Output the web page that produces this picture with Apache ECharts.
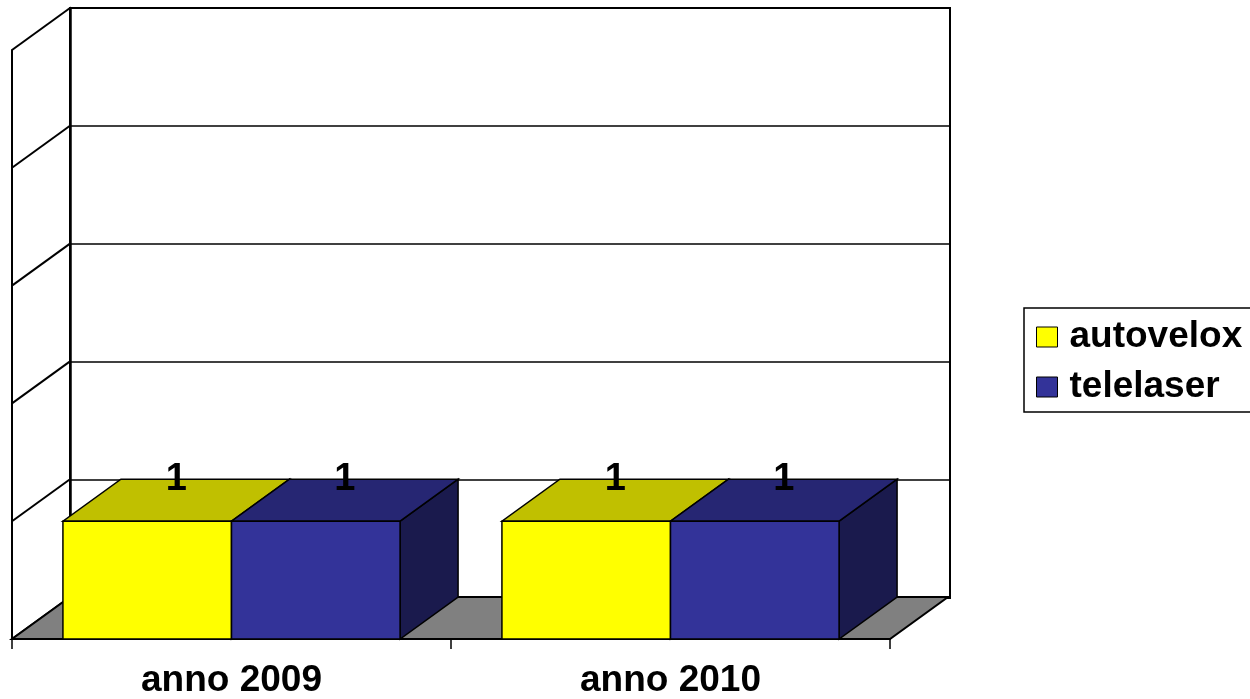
<!DOCTYPE html>
<html>
<head>
<meta charset="utf-8">
<script src="https://cdn.jsdelivr.net/npm/echarts@6/dist/echarts.min.js"></script>
<style>html,body{margin:0;padding:0;background:#fff;}#c{width:1250px;height:699px;}</style>
</head>
<body>
<div id="c"></div>
<script>
const categories = ['anno 2009', 'anno 2010'];
const seriesNames = ['autovelox', 'telelaser'];
const autovelox = [1, 1];
const telelaser = [1, 1];
const yTicks = [0, 1, 2, 3, 4, 5];

const DX = 58, DY = -42;
const FONT = '"Liberation Sans", Arial, sans-serif';
const faceColors = [
  { front: '#FFFF00', top: '#C0C000', side: '#8A8A00' },
  { front: '#333399', top: '#262673', side: '#1A1A4D' }
];
const BAR_FRAC = 0.384;

function barRender(sIdx) {
  return function (params, api) {
    const cat = api.value(0), v = api.value(1);
    const top = api.coord([cat, v]);
    const base = api.coord([cat, 0]);
    const band = api.size([1, 0])[0];
    const w = band * BAR_FRAC;
    const xL = top[0] - w + sIdx * w;
    const yT = top[1], yB = base[1];
    const col = faceColors[sIdx];
    const st = { stroke: '#000', lineWidth: 1.5 };
    return {
      type: 'group',
      children: [
        { type: 'polygon', shape: { points: [[xL + w, yT], [xL + w + DX, yT + DY], [xL + w + DX, yB + DY], [xL + w, yB]] },
          style: Object.assign({ fill: col.side }, st) },
        { type: 'polygon', shape: { points: [[xL, yT], [xL + w, yT], [xL + w + DX, yT + DY], [xL + DX, yT + DY]] },
          style: Object.assign({ fill: col.top }, st) },
        { type: 'rect', shape: { x: xL, y: yT, width: w, height: yB - yT },
          style: Object.assign({ fill: col.front }, st) },
        { type: 'text', x: xL + w / 2 + DX / 2, y: yT + DY, z2: 10,
          style: { text: String(v), fill: '#000', font: 'bold 38px ' + FONT, align: 'center', verticalAlign: 'middle' } }
      ]
    };
  };
}

const chart = echarts.init(document.getElementById('c'), null, { renderer: 'canvas' });
chart.setOption({
  animation: false,
  backgroundColor: '#fff',
  grid: [
    { left: 12, right: 360, top: 50, bottom: 59 },
    { left: 70, right: 300, top: 8, bottom: 101, show: true, borderColor: '#000', borderWidth: 2, backgroundColor: '#fff' }
  ],
  legend: {
    data: seriesNames,
    orient: 'vertical',
    left: 1024, top: 308,
    borderColor: '#000', borderWidth: 1.5,
    padding: [9, 10, 5, 12],
    itemWidth: 21, itemHeight: 20, itemGap: 10,
    icon: 'rect',
    itemStyle: { borderColor: '#000', borderWidth: 1 },
    textStyle: { fontFamily: FONT, fontWeight: 'bold', fontSize: 37, color: '#000', lineHeight: 40, padding: [0, 0, 0, 7] }
  },
  xAxis: [
    { type: 'category', gridIndex: 0, data: categories,
      axisLine: { show: true, lineStyle: { color: '#000', width: 2 } },
      axisTick: { show: true, length: 10, lineStyle: { color: '#000', width: 1.5 } },
      axisLabel: { fontFamily: FONT, fontWeight: 'bold', fontSize: 37, color: '#000', margin: 23 },
      splitLine: { show: false } },
    { type: 'category', gridIndex: 1, data: categories, show: false }
  ],
  yAxis: [
    { type: 'value', gridIndex: 0, min: 0, max: 5, interval: 1,
      axisLine: { show: true, lineStyle: { color: '#000', width: 2 } },
      axisTick: { show: false }, axisLabel: { show: false }, splitLine: { show: false } },
    { type: 'value', gridIndex: 1, min: 0, max: 5, interval: 1,
      axisLine: { show: true, lineStyle: { color: '#000', width: 2.5 } },
      axisTick: { show: false }, axisLabel: { show: false },
      splitLine: { show: true, lineStyle: { color: '#000', width: 1.5 } } }
  ],
  series: [
    { type: 'custom', name: 'walls', xAxisIndex: 0, yAxisIndex: 0, silent: true, z: 1,
      data: yTicks.map(v => [0, v]),
      renderItem: function (params, api) {
        const y = api.coord([0, api.value(1)])[1];
        const x0 = params.coordSys.x;
        return { type: 'line', shape: { x1: x0, y1: y, x2: x0 + DX, y2: y + DY }, style: { stroke: '#000', lineWidth: 2 } };
      } },
    { type: 'custom', name: 'floor', xAxisIndex: 0, yAxisIndex: 0, silent: true, z: 2,
      data: [[0, 0]],
      renderItem: function (params, api) {
        const y = api.coord([0, 0])[1];
        const cs = params.coordSys;
        const x0 = cs.x, x1 = cs.x + cs.width;
        return { type: 'polygon', shape: { points: [[x0, y], [x1, y], [x1 + DX, y + DY], [x0 + DX, y + DY]] },
          style: { fill: '#808080', stroke: '#000', lineWidth: 2 } };
      } },
    { type: 'custom', name: seriesNames[0], xAxisIndex: 0, yAxisIndex: 0, z: 3,
      itemStyle: { color: faceColors[0].front },
      data: autovelox.map((v, i) => [i, v]), renderItem: barRender(0) },
    { type: 'custom', name: seriesNames[1], xAxisIndex: 0, yAxisIndex: 0, z: 4,
      itemStyle: { color: faceColors[1].front },
      data: telelaser.map((v, i) => [i, v]), renderItem: barRender(1) }
  ]
});
</script>
</body>
</html>
